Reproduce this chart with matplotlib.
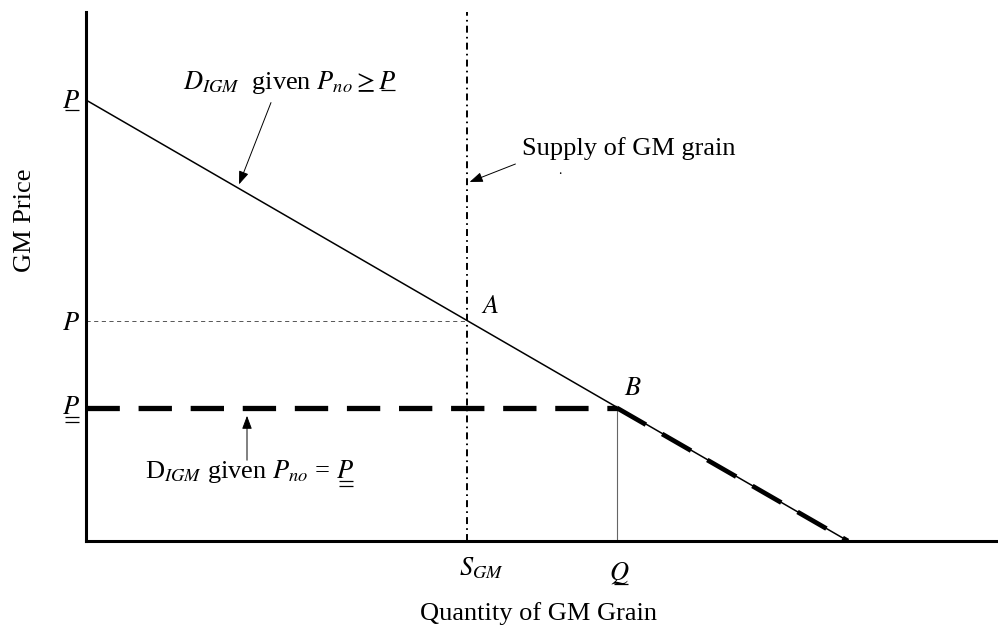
import matplotlib.pyplot as plt
from matplotlib.lines import Line2D

"""
GM grain market: demand for GM grain with and without the price floor
"""

plt.rcParams['mathtext.fontset'] = 'stix'
plt.rcParams['font.family'] = ['Liberation Serif', 'DejaVu Serif']
plt.rcParams['lines.scale_dashes'] = False

# values (in axis units, origin at the corner)
p_top = 441      # demand intercept on the price axis
p_mid = 220      # price at A
p_low = 133      # floor price, at B
q_max = 762      # demand intercept on the quantity axis
s_gm = 381       # supply of GM grain
q_bar = 531      # quantity at B
x_lim = 912
y_lim = 529

demand_x = [0, q_max]
demand_y = [p_top, 0]
floor_x = [0, q_bar]
floor_y = [p_low, p_low]
tail_x = [q_bar, q_max]
tail_y = [p_low, 0]

FS = 19


def underline_last(fig, ax, t, y_base, n=1, w=15, pad=3):
    # rule(s) under the last glyph of text t, y_base in axis units
    fig.canvas.draw()
    bb = t.get_window_extent()
    y0 = ax.transData.transform((0, y_base))[1]
    for k in range(n):
        y = y0 - pad - 5 * k
        fig.add_artist(Line2D([bb.x1 - w - 1, bb.x1 - 1], [y, y], transform=None,
                              color="black", lw=0.9, solid_capstyle="butt"))


def draw():
    fig = plt.figure(figsize=(9.98, 6.31), dpi=100)
    ax = fig.add_axes([86 / 998, 90 / 631, 912 / 998, 529 / 631])
    ax.set_xlim(0, x_lim)
    ax.set_ylim(0, y_lim)
    for s in ["top", "right"]:
        ax.spines[s].set_visible(False)
    for s in ["left", "bottom"]:
        ax.spines[s].set_linewidth(2.2)
    ax.set_xticks([])
    ax.set_yticks([])

    # demand with P_no >= P
    ax.plot(demand_x, demand_y, color="black", lw=1.1)
    # supply
    ax.plot([s_gm, s_gm], [0, y_lim], color="black", lw=1.4, dashes=(5, 3, 1.2, 3))
    # guide lines
    ax.plot([0, s_gm], [p_mid, p_mid], color="#555555", lw=0.7, dashes=(3, 2.5))
    ax.plot([q_bar, q_bar], [0, p_low], color="#666666", lw=0.8)
    # demand with P_no = floor
    ax.plot(floor_x, floor_y, color="black", lw=3.8, dashes=(24, 13.5), solid_capstyle="butt")
    ax.plot(tail_x, tail_y, color="black", lw=3.4, dashes=(24, 13.5), dash_capstyle="butt")

    # price labels
    t_top = ax.text(-15, p_top - 8, "$P$", fontsize=FS, ha="center", va="baseline", clip_on=False)
    ax.text(-15, p_mid - 9, "$P$", fontsize=FS, ha="center", va="baseline", clip_on=False)
    t_low = ax.text(-15, p_low - 6, "$P$", fontsize=FS, ha="center", va="baseline", clip_on=False)

    # quantity labels
    ax.text(s_gm + 14, -34, "$S_{GM}$", fontsize=FS, ha="center", va="baseline", clip_on=False)
    t_q = ax.text(q_bar + 2, -39, "$Q$", fontsize=FS, ha="center", va="baseline", clip_on=False)

    ax.text(s_gm + 23, p_mid + 8, "$A$", fontsize=FS, ha="center", va="baseline")
    ax.text(q_bar + 16, p_low + 13, "$B$", fontsize=FS, ha="center", va="baseline")

    fig.text(538 / 998, 11 / 631, "Quantity of GM Grain", fontsize=FS, ha="center", va="baseline")
    fig.text(25 / 998, 411 / 631, "GM Price", fontsize=FS, ha="center", va="center", rotation=90)

    # annotations
    arrow = dict(arrowstyle="-|>,head_length=0.8,head_width=0.3", color="black", lw=0.7)
    ax.annotate("", xy=(152, 354), xytext=(186, 441), arrowprops=arrow)
    t_d1 = ax.text(97, 452, r"$D_{IGM}$  given $P_{no} \geq P$", fontsize=FS, ha="left", va="baseline")

    ax.annotate("", xy=(s_gm, 358), xytext=(432, 378), arrowprops=arrow)
    ax.text(436, 386, "Supply of GM grain", fontsize=FS, ha="left", va="baseline")
    ax.text(474, 370, ".", fontsize=10, ha="center", va="center")

    ax.annotate("", xy=(161, p_low - 5), xytext=(161, 78), arrowprops=arrow)
    t_d2 = ax.text(59, 63, r"D$_{IGM}$ given $P_{no}$ = $P$", fontsize=FS, ha="left", va="baseline")

    underline_last(fig, ax, t_top, p_top - 8, w=14, pad=2)
    underline_last(fig, ax, t_low, p_low - 6, n=2, w=14, pad=3)
    underline_last(fig, ax, t_q, -39, w=14, pad=4)
    underline_last(fig, ax, t_d1, 452, w=14, pad=1)
    underline_last(fig, ax, t_d2, 63, n=2, w=14, pad=3)

    fig.savefig("out.png", dpi=100)


if __name__ == "__main__":
    draw()
